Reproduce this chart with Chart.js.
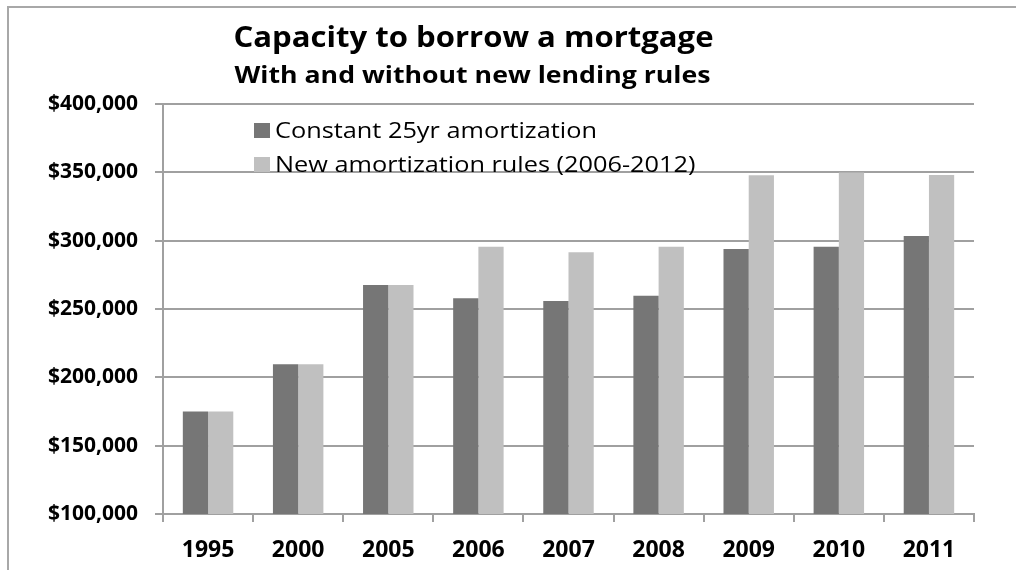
<!DOCTYPE html>
<html>
<head>
<meta charset="utf-8">
<script src="https://cdn.jsdelivr.net/npm/chart.js@4.4.0/dist/chart.umd.min.js"></script>
<style>
  html, body { margin: 0; padding: 0; background: #fff; }
  #wrap { width: 1016px; height: 570px; position: relative; }
</style>
</head>
<body>
<div id="wrap"><canvas id="c" width="1016" height="570"></canvas></div>
<script>
const titleText = "Capacity to borrow a mortgage";
const subtitleText = "With and without new lending rules";
const categories = ["1995", "2000", "2005", "2006", "2007", "2008", "2009", "2010", "2011"];
const seriesNames = ["Constant 25yr amortization", "New amortization rules (2006-2012)"];
const constant25 = [175000, 209500, 267500, 257800, 255800, 259700, 293900, 295600, 303400];
const newRules   = [175000, 209500, 267500, 295600, 291500, 295600, 347800, 349800, 348000];
const yTicks = [100000, 150000, 200000, 250000, 300000, 350000, 400000];

const FONT = "'Open Sans'";
const gridColor = "#a0a0a0";

function stretchedText(ctx, text, x, y, sx, align) {
  ctx.save();
  ctx.translate(x, y);
  ctx.scale(sx, 1);
  ctx.textAlign = align;
  ctx.fillText(text, 0, 0);
  ctx.restore();
}

const decor = {
  id: "decor",
  beforeDraw(chart) {
    const ctx = chart.ctx;
    ctx.save();
    ctx.fillStyle = "#fff";
    ctx.fillRect(0, 0, chart.width, chart.height);
    ctx.strokeStyle = "#a8a8a8";
    ctx.lineWidth = 2;
    ctx.beginPath();
    ctx.moveTo(8, 570);
    ctx.lineTo(8, 7);
    ctx.lineTo(1016, 7);
    ctx.stroke();
    ctx.restore();
  },
  afterDraw(chart) {
    const ctx = chart.ctx;
    ctx.save();
    ctx.fillStyle = "#000";
    ctx.textBaseline = "alphabetic";
    ctx.font = "bold 28px " + FONT;
    stretchedText(ctx, titleText, 473.5, 47, 1.11, "center");
    ctx.font = "bold 23px " + FONT;
    stretchedText(ctx, subtitleText, 472.5, 83, 1.16, "center");
    // legend
    ctx.font = "22px " + FONT;
    const ds = chart.data.datasets;
    const rows = [138, 172];
    ds.forEach((d, i) => {
      ctx.fillStyle = d.backgroundColor;
      ctx.fillRect(254, rows[i] - 15, 16, 15);
      ctx.fillStyle = "#000";
      stretchedText(ctx, d.label, 275, rows[i], 1.15, "left");
    });
    ctx.restore();
  }
};

new Chart(document.getElementById("c"), {
  type: "bar",
  data: {
    labels: categories,
    datasets: [
      { label: seriesNames[0], data: constant25, backgroundColor: "#767676" },
      { label: seriesNames[1], data: newRules, backgroundColor: "#c0c0c0" }
    ]
  },
  options: {
    responsive: false,
    animation: false,
    devicePixelRatio: 1,
    layout: { padding: { left: 0, right: 42, top: 104, bottom: 0 } },
    plugins: { legend: { display: false }, title: { display: false }, tooltip: { enabled: false } },
    datasets: { bar: { categoryPercentage: 0.56, barPercentage: 1.0 } },
    scales: {
      x: {
        grid: { display: true, drawOnChartArea: false, drawTicks: true, tickLength: 8, color: gridColor, lineWidth: 2, offset: true },
        border: { display: true, color: gridColor, width: 2 },
        ticks: { color: "#000", font: { family: FONT, size: 23, weight: "bold" }, padding: 15, maxRotation: 0 },
        afterFit(s) { s.height = 56; }
      },
      y: {
        min: 100000, max: 400000,
        afterBuildTicks(s) { s.ticks = yTicks.map(v => ({ value: v })); },
        grid: { color: gridColor, lineWidth: 2, tickLength: 8, drawTicks: true },
        border: { display: true, color: gridColor, width: 2 },
        ticks: {
          color: "#000", padding: 17,
          font: { family: FONT, size: 21, weight: "bold" },
          callback: v => "$" + v.toLocaleString("en-US")
        },
        afterFit(s) { s.width = 163; }
      }
    }
  },
  plugins: [decor]
});
</script>
</body>
</html>
